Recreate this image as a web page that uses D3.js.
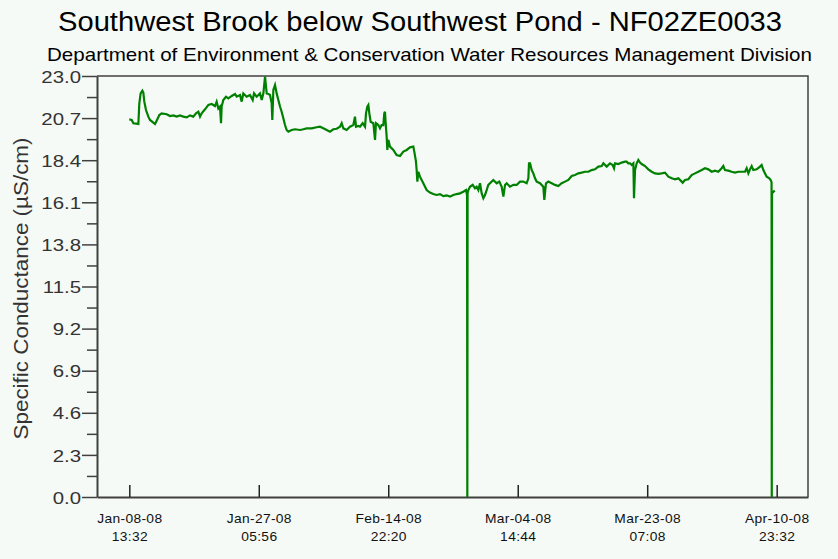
<!DOCTYPE html>
<html>
<head>
<meta charset="utf-8">
<script src="https://cdn.jsdelivr.net/npm/d3@7/dist/d3.min.js"></script>
<style>
    html, body { margin: 0; padding: 0; background: #f6faf6; }
    svg { display: block; font-family: "Liberation Sans", Arial, sans-serif; }
</style>
</head>
<body>
<div id="chart"></div>
<script>
// Specific conductance record, NF02ZE0033, Jan-Apr 2008
// time as fractional days since 2008-01-01 00:00
var dayOfYear = [
    7.56, 7.91, 8.15, 8.87, 9.01, 9.20, 9.45, 9.59, 9.73, 9.97,
    10.31, 10.55, 11.03, 11.27, 11.51, 11.90, 12.23, 12.96, 13.44, 13.92,
    14.40, 14.88, 15.36, 15.84, 16.32, 16.80, 17.19, 17.53, 17.77, 18.01,
    18.49, 18.97, 19.45, 19.93, 20.17, 20.41, 20.65, 20.80, 20.89, 21.13,
    21.52, 21.85, 22.34, 22.82, 23.06, 23.54, 23.78, 24.02, 24.50, 24.98,
    25.37, 25.56, 25.94, 26.42, 26.67, 26.91, 27.15, 27.39, 27.63, 27.87,
    28.11, 28.20, 28.35, 28.59, 28.83, 29.07, 29.31, 29.55, 29.79, 30.03,
    30.27, 30.51, 30.99, 31.47, 32.20, 32.68, 33.16, 33.88, 34.60, 35.08,
    35.56, 36.04, 36.52, 37.01, 37.49, 37.97, 38.21, 38.45, 38.93, 39.41,
    39.89, 40.13, 40.28, 40.61, 40.85, 41.24, 41.58, 41.72, 41.91, 42.06,
    42.20, 42.39, 42.78, 43.02, 43.16, 43.50, 43.74, 43.98, 44.22, 44.36,
    44.46, 44.56, 44.70, 44.80, 44.94, 45.18, 45.66, 46.14, 46.63, 47.11,
    47.59, 48.07, 48.55, 48.69, 48.93, 49.03, 49.13, 49.27, 49.51, 49.99,
    50.47, 50.95, 51.43, 51.91, 52.40, 52.88, 53.36, 53.84, 54.32, 54.80,
    55.28, 55.76, 56.15, 56.30, 56.34, 56.38, 56.49, 56.73, 57.11, 57.45,
    57.69, 57.93, 58.17, 58.41, 58.65, 58.89, 59.13, 59.37, 59.61, 60.09,
    60.58, 60.96, 61.30, 61.54, 61.78, 62.02, 62.50, 62.98, 63.46, 63.94,
    64.42, 64.90, 65.15, 65.24, 65.39, 65.63, 65.87, 66.11, 66.35, 66.83,
    67.31, 67.45, 67.69, 68.03, 68.51, 68.99, 69.47, 69.95, 70.44, 70.92,
    71.40, 71.88, 72.36, 72.84, 73.32, 73.80, 74.28, 74.76, 75.25, 75.73,
    75.97, 76.45, 76.93, 77.31, 77.51, 77.65, 78.13, 78.61, 79.09, 79.33,
    79.57, 79.82, 80.06, 80.30, 80.39, 80.54, 80.78, 81.02, 81.26, 81.50,
    81.98, 82.46, 82.94, 83.42, 83.90, 84.38, 84.87, 85.35, 85.83, 86.31,
    86.79, 87.27, 87.41, 87.75, 88.23, 88.71, 89.19, 89.68, 90.16, 90.64,
    91.12, 91.60, 92.08, 92.56, 93.04, 93.28, 93.52, 94.00, 94.48, 94.97,
    95.45, 95.93, 96.41, 96.65, 96.89, 97.13, 97.37, 97.61, 98.09, 98.57,
    98.81, 99.06, 99.30, 99.54, 99.92, 100.11, 100.24, 100.27, 100.31, 100.70
];

// specific conductance (uS/cm), same order as dayOfYear
var conductance = [
    20.63, 20.60, 20.42, 20.38, 21.51, 22.05, 22.20, 22.09, 21.60, 21.14,
    20.78, 20.60, 20.45, 20.38, 20.56, 20.87, 20.96, 20.91, 20.81, 20.85,
    20.78, 20.85, 20.78, 20.74, 20.85, 20.78, 20.96, 21.05, 20.78, 20.96,
    21.18, 21.42, 21.47, 21.36, 21.60, 21.23, 21.33, 20.42, 21.33, 21.69,
    21.87, 21.78, 21.91, 22.02, 21.87, 21.96, 21.60, 22.05, 21.87, 21.96,
    21.69, 22.05, 21.87, 22.05, 21.69, 22.05, 22.96, 22.05, 22.02, 21.96,
    21.51, 20.60, 22.24, 22.51, 22.05, 21.69, 21.33, 21.05, 20.69, 20.32,
    20.05, 19.96, 20.05, 20.09, 20.05, 20.09, 20.14, 20.14, 20.20, 20.23,
    20.14, 20.05, 19.96, 20.09, 20.12, 20.23, 20.42, 20.14, 20.05, 20.23,
    20.32, 20.78, 20.23, 20.27, 20.23, 20.42, 20.23, 20.96, 21.33, 21.42,
    20.96, 20.50, 20.42, 19.51, 20.42, 20.32, 20.14, 20.32, 20.32, 20.96,
    21.05, 20.42, 19.69, 18.96, 19.51, 19.14, 18.96, 18.68, 18.63, 18.87,
    18.96, 19.10, 19.14, 18.87, 18.32, 17.86, 17.23, 17.77, 17.50, 17.14,
    16.77, 16.63, 16.55, 16.50, 16.55, 16.44, 16.48, 16.41, 16.50, 16.55,
    16.59, 16.68, 16.77, 16.50, 0.00, 16.60, 16.77, 16.95, 17.05, 16.86,
    16.95, 16.77, 17.14, 16.59, 16.32, 16.50, 16.77, 17.05, 17.14, 17.32,
    17.14, 17.23, 16.95, 16.41, 17.05, 17.14, 16.95, 17.05, 17.05, 17.23,
    17.23, 17.14, 17.41, 18.23, 18.23, 17.86, 17.68, 17.41, 17.23, 17.14,
    16.95, 16.23, 17.14, 17.23, 17.14, 17.05, 16.99, 17.14, 17.23, 17.32,
    17.54, 17.59, 17.68, 17.72, 17.77, 17.77, 17.86, 17.90, 18.05, 18.08,
    18.23, 18.05, 18.23, 18.14, 17.96, 18.23, 18.19, 18.27, 18.32, 18.32,
    18.23, 18.23, 18.14, 18.23, 16.32, 17.86, 18.23, 18.41, 18.27, 18.19,
    18.08, 17.90, 17.77, 17.68, 17.65, 17.68, 17.72, 17.50, 17.41, 17.36,
    17.41, 17.23, 17.17, 17.32, 17.36, 17.59, 17.68, 17.77, 17.86, 17.96,
    17.90, 17.77, 17.83, 17.77, 17.96, 18.08, 17.86, 17.83, 17.77, 17.72,
    17.77, 17.77, 17.77, 17.96, 17.68, 17.90, 18.08, 17.86, 17.90, 18.05,
    18.14, 17.86, 17.68, 17.50, 17.41, 17.32, 17.20, 0.00, 16.60, 16.75
];

var xTickTimes = ["2008-01-08 13:32", "2008-01-27 05:56", "2008-02-14 22:20",
                  "2008-03-04 14:44", "2008-03-23 07:08", "2008-04-10 23:32"];
var yTickValues = [0.0, 2.3, 4.6, 6.9, 9.2, 11.5, 13.8, 16.1, 18.4, 20.7, 23.0];

var title = "Southwest Brook below Southwest Pond - NF02ZE0033";
var subtitle = "Department of Environment & Conservation Water Resources Management Division";
var yLabel = "Specific Conductance (\u00b5S/cm)";

(function () {
    "use strict";

    var width = 838, height = 559;
    var plotLeft = 97, plotRight = 808, plotTop = 76, plotBottom = 497;
    var tickStretch = 1.2;   // tick labels are drawn a bit wider than the font's own shape

    var parseTime = d3.timeParse("%Y-%m-%d %H:%M");
    var yearStart = new Date(2008, 0, 1);
    var data = dayOfYear.map(function (d, i) {
        return { t: d3.timeMinute.offset(yearStart, Math.round(d * 1440)), v: conductance[i] };
    });

    var svg = d3.select("#chart").append("svg")
        .attr("width", width)
        .attr("height", height);

    svg.append("rect")
        .attr("width", width)
        .attr("height", height)
        .attr("fill", "#f6faf6");

    var x = d3.scaleTime()
        .domain([new Date(2008, 0, 3, 21, 40), new Date(2008, 3, 15, 12, 0)])
        .range([plotLeft, plotRight]);

    var y = d3.scaleLinear()
        .domain([0, 23])
        .range([plotBottom, plotTop]);

    // titles
    svg.append("text")
        .attr("x", 420)
        .attr("y", 31)
        .attr("text-anchor", "middle")
        .attr("font-size", "27px")
        .attr("textLength", 724)
        .attr("lengthAdjust", "spacingAndGlyphs")
        .attr("fill", "#000")
        .text(title);

    svg.append("text")
        .attr("x", 429.5)
        .attr("y", 61)
        .attr("text-anchor", "middle")
        .attr("font-size", "19px")
        .attr("textLength", 765)
        .attr("lengthAdjust", "spacingAndGlyphs")
        .attr("fill", "#000")
        .text(subtitle);

    // frame top + right
    svg.append("path")
        .attr("d", "M" + plotLeft + "," + plotTop + "H" + plotRight + "V" + plotBottom)
        .attr("fill", "none")
        .attr("stroke", "#404040")
        .attr("stroke-width", 1.5);

    // y axis, minor ticks first
    var minorTicks = d3.pairs(yTickValues).map(function (p) { return (p[0] + p[1]) / 2; });

    svg.append("g")
        .attr("transform", "translate(" + plotLeft + ",0)")
        .call(d3.axisLeft(y).tickValues(minorTicks).tickSize(10).tickSizeOuter(0).tickFormat(""))
        .call(function (g) {
            g.select(".domain").remove();
            g.selectAll("line").attr("stroke", "#404040").attr("stroke-width", 1.5);
        });

    var yAxis = svg.append("g")
        .attr("transform", "translate(" + plotLeft + ",0)")
        .call(d3.axisLeft(y).tickValues(yTickValues).tickSize(15).tickSizeOuter(0)
            .tickPadding(0).tickFormat(d3.format(".1f")));

    yAxis.select(".domain").attr("stroke", "#404040").attr("stroke-width", 2);
    yAxis.selectAll("line").attr("stroke", "#404040").attr("stroke-width", 1.5);
    yAxis.selectAll("text")
        .attr("font-family", "Liberation Sans, Arial, sans-serif")
        .attr("font-size", "17px")
        .attr("fill", "#333")
        .attr("x", -16 / tickStretch)
        .attr("dy", "0.36em")
        .attr("transform", "scale(" + tickStretch + ",1)");

    // x axis
    var xAxis = svg.append("g")
        .attr("transform", "translate(0," + plotBottom + ")")
        .call(d3.axisBottom(x).tickValues(xTickTimes.map(parseTime)).tickSize(-12).tickSizeOuter(0)
            .tickFormat(""));

    xAxis.select(".domain").attr("stroke", "#404040").attr("stroke-width", 2);
    xAxis.selectAll("line").attr("stroke", "#222").attr("stroke-width", 1.5);

    var fmtDate = d3.timeFormat("%b-%d-%y"), fmtTime = d3.timeFormat("%H:%M");
    xAxis.selectAll(".tick text").each(function (d) {
        var t = d3.select(this)
            .attr("y", 0).attr("dy", null)
            .attr("font-family", "Liberation Sans, Arial, sans-serif")
            .attr("font-size", "12px")
            .attr("letter-spacing", "0.3px")
            .attr("fill", "#111")
            .attr("transform", "scale(1.15,1)");
        t.append("tspan").attr("x", 0).attr("y", 26).text(fmtDate(d));
        t.append("tspan").attr("x", 0).attr("y", 44).text(fmtTime(d));
    });

    // y label
    svg.append("text")
        .attr("transform", "translate(28," + ((plotTop + plotBottom) / 2 + 2) + ") rotate(-90)")
        .attr("text-anchor", "middle")
        .attr("font-size", "20px")
        .attr("textLength", 302)
        .attr("lengthAdjust", "spacingAndGlyphs")
        .attr("fill", "#333")
        .text(yLabel);

    // the series
    var line = d3.line()
        .x(function (d) { return x(d.t); })
        .y(function (d) { return y(d.v); });

    svg.append("path")
        .datum(data)
        .attr("d", line)
        .attr("fill", "none")
        .attr("stroke", "#008000")
        .attr("stroke-width", 2.2)
        .attr("stroke-linejoin", "miter");
})();
</script>
</body>
</html>
